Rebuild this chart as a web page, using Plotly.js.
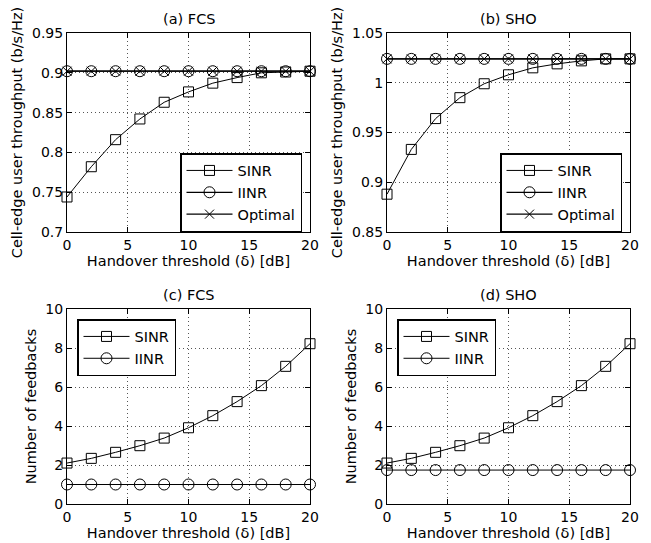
<!DOCTYPE html>
<html>
<head>
<meta charset="utf-8">
<script src="https://cdn.plot.ly/plotly-3.0.1.min.js"></script>
<style>html,body{margin:0;padding:0;background:#fff;}#chart{width:651px;height:543px;}</style>
</head>
<body>
<div id="chart"></div>
<script>
// ---- data ----
const threshold = [0, 2, 4, 6, 8, 10, 12, 14, 16, 18, 20];
const fcsThroughputSINR = [0.744, 0.782, 0.816, 0.842, 0.863, 0.876, 0.887, 0.894, 0.900, 0.901, 0.902];
const fcsThroughputIINR = [0.902, 0.902, 0.902, 0.902, 0.902, 0.902, 0.902, 0.902, 0.902, 0.902, 0.902];
const fcsThroughputOpt  = [0.902, 0.902, 0.902, 0.902, 0.902, 0.902, 0.902, 0.902, 0.902, 0.902, 0.902];
const shoThroughputSINR = [0.888, 0.933, 0.964, 0.985, 0.999, 1.008, 1.015, 1.019, 1.022, 1.024, 1.024];
const shoThroughputIINR = [1.024, 1.024, 1.024, 1.024, 1.024, 1.024, 1.024, 1.024, 1.024, 1.024, 1.024];
const shoThroughputOpt  = [1.024, 1.024, 1.024, 1.024, 1.024, 1.024, 1.024, 1.024, 1.024, 1.024, 1.024];
const fcsFeedbackSINR = [2.10, 2.34, 2.65, 2.99, 3.38, 3.91, 4.53, 5.25, 6.07, 7.06, 8.22];
const fcsFeedbackIINR = [1.0, 1.0, 1.0, 1.0, 1.0, 1.0, 1.0, 1.0, 1.0, 1.0, 1.0];
const shoFeedbackSINR = [2.10, 2.34, 2.65, 2.99, 3.38, 3.91, 4.53, 5.25, 6.07, 7.06, 8.22];
const shoFeedbackIINR = [1.74, 1.74, 1.74, 1.74, 1.74, 1.74, 1.74, 1.74, 1.74, 1.74, 1.74];

const xTicks = [0, 5, 10, 15, 20];
const yTicksA = [0.7, 0.75, 0.8, 0.85, 0.9, 0.95];
const yTickTextA = ['0.7', '0.75', '0.8', '0.85', '0.9', '0.95'];
const yTicksB = [0.85, 0.9, 0.95, 1.0, 1.05];
const yTickTextB = ['0.85', '0.9', '0.95', '1', '1.05'];
const yTicksC = [0, 2, 4, 6, 8, 10];
const panelTitles = ['(a) FCS', '(b) SHO', '(c) FCS', '(d) SHO'];

// ---- styling ----
const FONT = 'DejaVu Sans, Liberation Sans, Arial, sans-serif';
const W = 651, H = 543;
function mk(name, x, y, xa, ya, leg, symbol, size, lw) {
  return {
    type: 'scatter', mode: 'lines+markers', name: name, x: x, y: y,
    xaxis: xa, yaxis: ya, legend: leg, showlegend: true, cliponaxis: false,
    line: {color: '#000', width: lw || 1},
    marker: {symbol: symbol, size: size, color: '#000', line: {color: '#000', width: 1}}
  };
}
const traces = [
  mk('SINR', threshold, fcsThroughputSINR, 'x', 'y', 'legend', 'square-open', 10),
  mk('IINR', threshold, fcsThroughputIINR, 'x', 'y', 'legend', 'circle-open', 11, 1.2),
  mk('Optimal', threshold, fcsThroughputOpt, 'x', 'y', 'legend', 'x-thin-open', 9, 1.2),
  mk('SINR', threshold, shoThroughputSINR, 'x2', 'y2', 'legend2', 'square-open', 10),
  mk('IINR', threshold, shoThroughputIINR, 'x2', 'y2', 'legend2', 'circle-open', 11, 1.2),
  mk('Optimal', threshold, shoThroughputOpt, 'x2', 'y2', 'legend2', 'x-thin-open', 9, 1.2),
  mk('SINR', threshold, fcsFeedbackSINR, 'x3', 'y3', 'legend3', 'square-open', 10),
  mk('IINR', threshold, fcsFeedbackIINR, 'x3', 'y3', 'legend3', 'circle-open', 11),
  mk('SINR', threshold, shoFeedbackSINR, 'x4', 'y4', 'legend4', 'square-open', 10),
  mk('IINR', threshold, shoFeedbackIINR, 'x4', 'y4', 'legend4', 'circle-open', 11)
];

const px = v => v / W, py = v => 1 - v / H;
const colL = [px(67), px(310)], colR = [px(387), px(630)];
const rowT = [py(232), py(33)], rowB = [py(504), py(309)];

function xax(domain, anchor) {
  return {
    domain: domain, anchor: anchor, range: [0, 20], tickvals: xTicks,
    ticks: 'inside', ticklen: 5, tickcolor: '#000', showline: true, mirror: 'ticks',
    linecolor: '#000', linewidth: 1, showgrid: true, gridcolor: '#555', griddash: '1px,3px', gridwidth: 1,
    zeroline: false, tickfont: {family: FONT, size: 14, color: '#000'},
    title: {text: 'Handover threshold (δ) [dB]', font: {family: FONT, size: 14.5, color: '#000'}, standoff: 3}
  };
}
function yax(domain, anchor, range, vals, text, title) {
  return {
    domain: domain, anchor: anchor, range: range, tickvals: vals, ticktext: text,
    ticks: 'inside', ticklen: 5, tickcolor: '#000', showline: true, mirror: 'ticks',
    linecolor: '#000', linewidth: 1, showgrid: true, gridcolor: '#555', griddash: '1px,3px', gridwidth: 1,
    zeroline: false, tickfont: {family: FONT, size: 14, color: '#000'},
    title: {text: title, font: {family: FONT, size: 14.5, color: '#000'}, standoff: 5}
  };
}
function leg(x, xanchor, y, yanchor) {
  return {
    x: x, xanchor: xanchor, y: y, yanchor: yanchor, xref: 'paper', yref: 'paper',
    bgcolor: '#fff', bordercolor: '#000', borderwidth: 1.5, itemwidth: 46,
    font: {family: FONT, size: 14.5, color: '#000'}, tracegroupgap: 0
  };
}
const thrTitle = 'Cell-edge user throughput (b/s/Hz)';
const fbTitle = 'Number of feedbacks';
function ann(text, x, y) {
  return {text: text, x: px(x), y: py(y), xref: 'paper', yref: 'paper', xanchor: 'center', yanchor: 'middle',
    showarrow: false, font: {family: FONT, size: 14.5, color: '#000'}};
}
const layout = {
  width: W, height: H, margin: {l: 0, r: 0, t: 0, b: 0},
  paper_bgcolor: '#fff', plot_bgcolor: '#fff', showlegend: true,
  xaxis: xax(colL, 'y'), yaxis: yax(rowT, 'x', [0.7, 0.95], yTicksA, yTickTextA, thrTitle),
  xaxis2: xax(colR, 'y2'), yaxis2: yax(rowT, 'x2', [0.85, 1.05], yTicksB, yTickTextB, thrTitle),
  xaxis3: xax(colL, 'y3'), yaxis3: yax(rowB, 'x3', [0, 10], yTicksC, yTicksC.map(String), fbTitle),
  xaxis4: xax(colR, 'y4'), yaxis4: yax(rowB, 'x4', [0, 10], yTicksC, yTicksC.map(String), fbTitle),
  legend: leg(px(302), 'right', py(232), 'bottom'),
  legend2: leg(px(622), 'right', py(232), 'bottom'),
  legend3: leg(px(77), 'left', py(319), 'top'),
  legend4: leg(px(397), 'left', py(319), 'top'),
  annotations: [
    ann(panelTitles[0], 188.5, 19),
    ann(panelTitles[1], 508.5, 19),
    ann(panelTitles[2], 188.5, 295),
    ann(panelTitles[3], 508.5, 295)
  ]
};
Plotly.newPlot('chart', traces, layout, {displayModeBar: false, staticPlot: true});
</script>
</body>
</html>
